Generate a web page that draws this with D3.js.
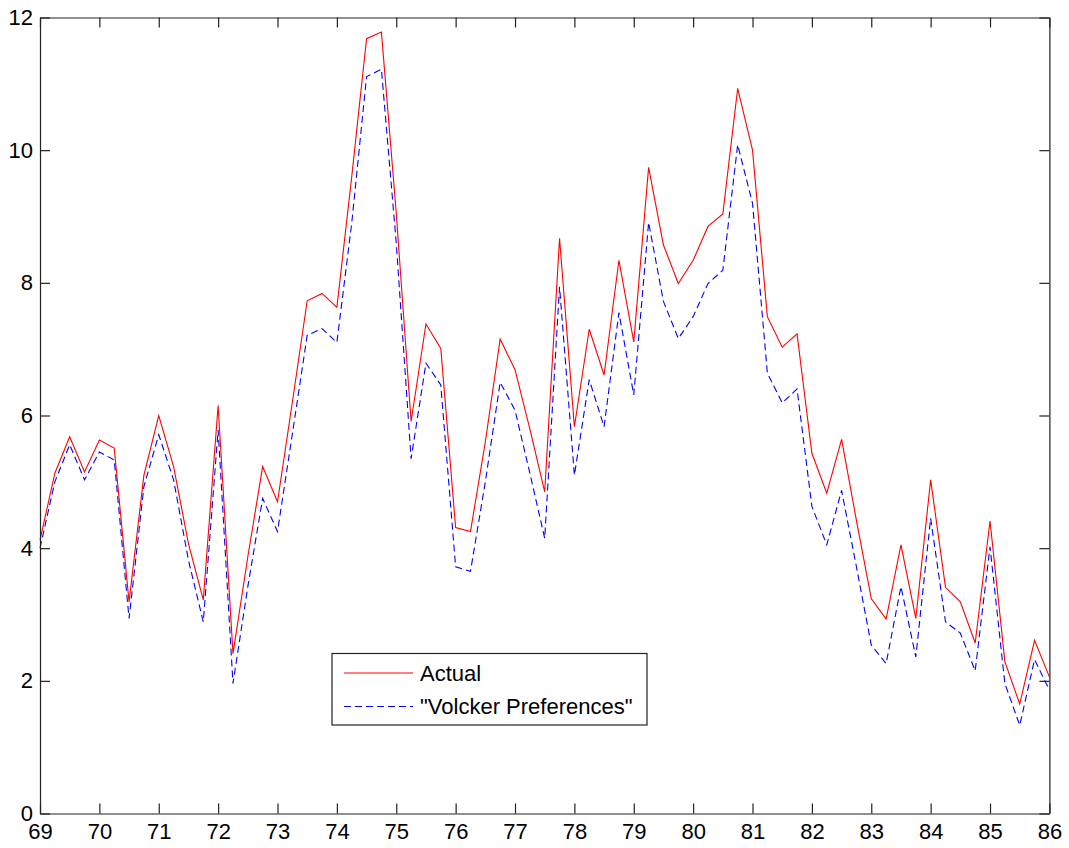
<!DOCTYPE html>
<html>
<head>
<meta charset="utf-8">
<script src="https://cdn.jsdelivr.net/npm/d3@7"></script>
<style>
    body { margin: 0; background: #fff; }
    svg text { font-family: "Liberation Sans", Arial, sans-serif; fill: #000; }
    .axis path, .axis line { stroke: #222; stroke-width: 1.2; }
</style>
</head>
<body>
<svg id="chart" width="1069" height="848"></svg>
<script>
// quarterly observations, 69:Q1 .. 86:Q1
var quarters = [
    69, 69.25, 69.5, 69.75, 70, 70.25, 70.5, 70.75,
    71, 71.25, 71.5, 71.75, 72, 72.25, 72.5, 72.75,
    73, 73.25, 73.5, 73.75, 74, 74.25, 74.5, 74.75,
    75, 75.25, 75.5, 75.75, 76, 76.25, 76.5, 76.75,
    77, 77.25, 77.5, 77.75, 78, 78.25, 78.5, 78.75,
    79, 79.25, 79.5, 79.75, 80, 80.25, 80.5, 80.75,
    81, 81.25, 81.5, 81.75, 82, 82.25, 82.5, 82.75,
    83, 83.25, 83.5, 83.75, 84, 84.25, 84.5, 84.75,
    85, 85.25, 85.5, 85.75, 86
];

var actual = [
    4.12, 5.13, 5.68, 5.15, 5.63, 5.51, 3.19, 5.10,
    6.00, 5.23, 4.07, 3.22, 6.15, 2.41, 3.87, 5.23,
    4.70, 6.20, 7.73, 7.84, 7.63, 9.60, 11.68, 11.78,
    9.05, 5.91, 7.38, 7.01, 4.31, 4.25, 5.60, 7.15,
    6.69, 5.80, 4.85, 8.67, 5.83, 7.30, 6.61, 8.34,
    7.11, 9.74, 8.57, 7.99, 8.34, 8.85, 9.04, 10.93,
    10.00, 7.49, 7.03, 7.23, 5.43, 4.83, 5.64, 4.42,
    3.24, 2.93, 4.05, 2.94, 5.03, 3.41, 3.19, 2.57,
    4.41, 2.29, 1.65, 2.61, 2.06
];

var volcker = [
    4.00, 5.00, 5.56, 5.03, 5.45, 5.33, 2.94, 4.93,
    5.71, 5.03, 3.82, 2.89, 5.78, 1.96, 3.42, 4.75,
    4.25, 5.72, 7.21, 7.31, 7.10, 8.90, 11.11, 11.22,
    8.60, 5.35, 6.79, 6.46, 3.72, 3.65, 5.00, 6.50,
    6.08, 5.13, 4.15, 7.94, 5.10, 6.54, 5.83, 7.55,
    6.31, 8.91, 7.72, 7.16, 7.49, 7.99, 8.19, 10.08,
    9.20, 6.64, 6.19, 6.40, 4.63, 4.05, 4.87, 3.72,
    2.54, 2.26, 3.42, 2.36, 4.45, 2.89, 2.72, 2.15,
    4.02, 1.96, 1.33, 2.32, 1.86
];

var xTicks = [69, 70, 71, 72, 73, 74, 75, 76, 77, 78, 79, 80, 81, 82, 83, 84, 85, 86];
var yTicks = [0, 2, 4, 6, 8, 10, 12];

var series = [
    { name: "Actual", values: actual, color: "#ff0000", dash: null },
    { name: "\"Volcker Preferences\"", values: volcker, color: "#0000ff", dash: "7,4" }
];

var margin = { top: 17.5, right: 19.6, bottom: 34.5, left: 40 };
var svg = d3.select("#chart");
var width = +svg.attr("width") - margin.left - margin.right;
var height = +svg.attr("height") - margin.top - margin.bottom;

var x = d3.scaleLinear().domain([69, 86]).range([0, width]);
var y = d3.scaleLinear().domain([0, 12]).range([height, 0]);

var g = svg.append("g")
    .attr("transform", "translate(" + margin.left + "," + margin.top + ")");

var line = function (vals) {
    return d3.line()
        .x(function (d, i) { return x(quarters[i]); })
        .y(function (d) { return y(d); })(vals);
};

series.forEach(function (s) {
    g.append("path")
        .attr("d", line(s.values))
        .attr("fill", "none")
        .attr("stroke", s.color)
        .attr("stroke-width", 1.1)
        .attr("stroke-dasharray", s.dash);
});

// box with inward ticks on all four sides
g.append("g")
    .attr("class", "axis")
    .attr("transform", "translate(0," + height + ")")
    .call(d3.axisBottom(x).tickValues(xTicks).tickFormat(d3.format("d"))
        .tickSizeInner(-10).tickSizeOuter(0).tickPadding(10))
    .selectAll("text").style("font-size", "22px");

g.append("g")
    .attr("class", "axis")
    .call(d3.axisTop(x).tickValues(xTicks).tickFormat("")
        .tickSizeInner(-10).tickSizeOuter(0));

g.append("g")
    .attr("class", "axis")
    .call(d3.axisLeft(y).tickValues(yTicks).tickFormat(d3.format("d"))
        .tickSizeInner(-10).tickSizeOuter(0).tickPadding(7))
    .selectAll("text").style("font-size", "22px");

g.append("g")
    .attr("class", "axis")
    .attr("transform", "translate(" + width + ",0)")
    .call(d3.axisRight(y).tickValues(yTicks).tickFormat("")
        .tickSizeInner(-10).tickSizeOuter(0));

g.selectAll(".axis .domain").attr("fill", "none");

// legend
var legend = svg.append("g").attr("transform", "translate(332,653.5)");
legend.append("rect")
    .attr("width", 315)
    .attr("height", 71.5)
    .attr("fill", "#fff")
    .attr("stroke", "#222")
    .attr("stroke-width", 1.2);

series.forEach(function (s, i) {
    var ly = 19.5 + i * 33.5;
    legend.append("line")
        .attr("x1", 12).attr("x2", 81)
        .attr("y1", ly).attr("y2", ly)
        .attr("stroke", s.color)
        .attr("stroke-width", 1.1)
        .attr("stroke-dasharray", s.dash);
    legend.append("text")
        .attr("x", 88)
        .attr("y", ly)
        .attr("dy", "0.35em")
        .style("font-size", "22px")
        .text(s.name);
});
</script>
</body>
</html>
